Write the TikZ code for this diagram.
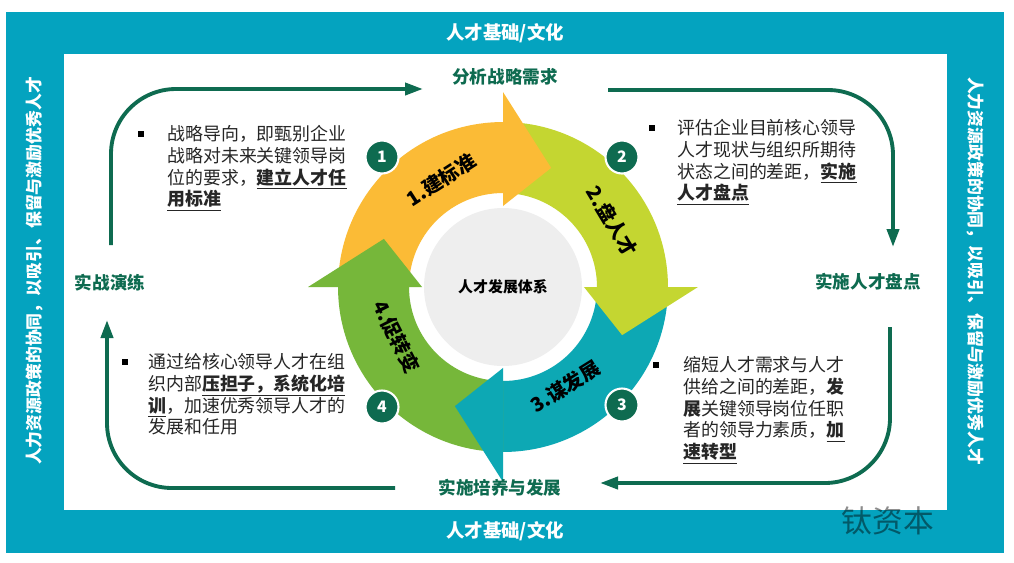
\documentclass[tikz,border=0pt]{standalone}
\usepackage{fontspec}
\setmainfont{Noto Sans CJK SC}
\usetikzlibrary{arrows.meta}
\definecolor{frame}{HTML}{04A3BF}
\definecolor{pine}{HTML}{0E6B50}
\definecolor{amber}{HTML}{FBBB36}
\definecolor{limeg}{HTML}{C4D631}
\definecolor{lagoon}{HTML}{0DA8B4}
\definecolor{leaf}{HTML}{76B73A}
\definecolor{ink}{HTML}{262626}
\definecolor{disc}{HTML}{EEEEEE}
\newcommand{\keyterm}[1]{\underline{\textbf{#1}}}

\begin{document}
\begin{tikzpicture}[x=0.02cm,y=-0.02cm,font=\fontsize{10.2}{12.4}\selectfont,
 band/.style={font=\bfseries\fontsize{10.5}{12}\selectfont,text=white},
 side/.style={band,font=\bfseries\fontsize{9.6}{11}\selectfont},
 stage/.style={font=\bfseries\fontsize{10}{12}\selectfont,text=pine},
 note/.style={anchor=north west,align=left,inner sep=0pt,text=ink,font=\fontsize{10.2}{12.4}\selectfont},
 dot/.style={fill=black,minimum size=.12cm,inner sep=0pt},
 badge/.style={circle,fill=pine,draw=white,line width=1.2pt,minimum size=.66cm,inner sep=0pt,text=white,font=\bfseries\fontsize{9}{10}\selectfont},
 lap/.style={font=\bfseries\fontsize{11.2}{12}\selectfont,text=black},
 loop/.style={draw=pine,line width=2.2pt,rounded corners=1.3cm,-{Triangle[length=.36cm,width=.24cm]}}]
\path[use as bounding box] (0,0) rectangle (1014,562);
\fill[frame] (6,12) rectangle (1004,553);
\fill[white] (64,54) rectangle (947,510);
\node[band] (capT) at (505,33) {人才基础/文化};
\node[band] (capB) at (505,531) {人才基础/文化};
\node[side,rotate=90] (capL) at (35,271) {人力资源政策的协同，以吸引、保留与激励优秀人才};
\node[side,rotate=-90] (capR) at (975,271) {人力资源政策的协同，以吸引、保留与激励优秀人才};
% the cycle
\begin{scope}[shift={(503,287)}]
\fill[disc] (0,0) circle[radius=1.58cm];
\foreach \a/\c [evaluate=\a as \b using \a-90] in {180/amber,90/limeg,0/lagoon,-90/leaf}
 \fill[\c] (\a:3.3cm) arc[start angle=\a,end angle=\b,radius=3.3cm]
  -- (\b:1.88cm) arc[start angle=\b,end angle=\a,radius=1.88cm] -- cycle;
\foreach \a/\c [evaluate=\a as \b using \a-90,evaluate=\a as \t using \a-112] in {180/amber,90/limeg,0/lagoon,-90/leaf}
 \fill[\c] (\b:1.62cm) -- (\b:3.9cm) -- (\t:2.57cm) -- cycle;
\node[font=\bfseries\fontsize{8.5}{10}\selectfont] (hub) at (0,0) {人才发展体系};
\node[lap,rotate=33] (lab1) at (120:2.48cm) {1.建标准};
\node[lap,rotate=-59] (lab2) at (31:2.55cm) {2.盘人才};
\node[lap,rotate=32] (lab3) at (-58:2.35cm) {3.谋发展};
\node[lap,rotate=-63] (lab4) at (-155:2.35cm) {4.促转变};
\end{scope}
\foreach \n/\x/\y in {1/382/157,2/622/157,3/622/405,4/382/407}
 \node[badge] (num\n) at (\x,\y) {\n};
% stages round the loop
\node[stage] (stT) at (505,77) {分析战略需求};
\node[stage] (stR) at (868,282) {实施人才盘点};
\node[stage] (stB) at (500,488) {实施培养与发展};
\node[stage] (stL) at (110,283) {实战演练};
\coordinate (l1s) at (111,245); \coordinate (l1e) at (423,89);
\coordinate (l2s) at (608,90); \coordinate (l2e) at (893,247);
\coordinate (l3s) at (890,327); \coordinate (l3e) at (600,483);
\coordinate (l4s) at (395,488); \coordinate (l4e) at (107,320);
\draw[loop] (l1s) |- (l1e);
\draw[loop] (l2s) -| (l2e);
\draw[loop] (l3s) |- (l3e);
\draw[loop] (l4s) -| (l4e);
% notes
\node[dot] (d1) at (141,134) {};
\node[note] (n1) at (167,125) {战略导向，即甄别企业\\战略对未来关键领导岗\\位的要求，\keyterm{建立人才任}\\\keyterm{用标准}};
\node[dot] (d2) at (652,128) {};
\node[note] (n2) at (677,119) {评估企业目前核心领导\\人才现状与组织所期待\\状态之间的差距，\keyterm{实施}\\\keyterm{人才盘点}};
\node[dot] (d3) at (656,365) {};
\node[note] (n3) at (683,356) {缩短人才需求与人才\\供给之间的差距，\textbf{发}\\\textbf{展}关键领导岗位任职\\者的领导力素质，\keyterm{加}\\\keyterm{速转型}};
\node[dot] (d4) at (125,362) {};
\node[note] (n4) at (148,353) {通过给核心领导人才在组\\织内部\keyterm{压担子，系统化培}\\\keyterm{训}，加速优秀领导人才的\\发展和任用};
\node[font=\fontsize{17.5}{18}\selectfont,opacity=.45] (mark) at (888,521) {钛资本};
\end{tikzpicture}
\end{document}
